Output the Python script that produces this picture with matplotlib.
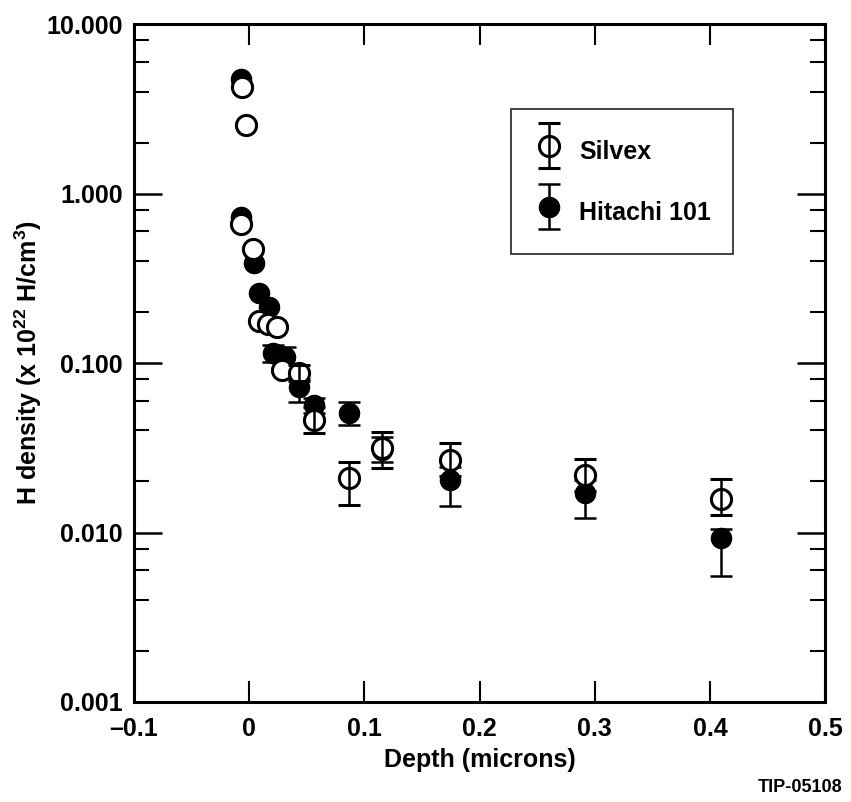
import numpy as np
import matplotlib
matplotlib.use('Agg')
import matplotlib.pyplot as plt
from matplotlib.container import ErrorbarContainer
from matplotlib.legend_handler import HandlerErrorbar

plt.rcParams['font.family'] = ['Liberation Sans', 'DejaVu Sans']
plt.rcParams['font.weight'] = 'bold'
plt.rcParams['axes.labelweight'] = 'bold'
plt.rcParams['mathtext.fontset'] = 'custom'
plt.rcParams['mathtext.rm'] = 'Liberation Sans:bold'

#==================================================================
# data (depth in microns, H density in 1e22 H/cm3)
# lo / hi are the ends of the error bars, nan where none is drawn
silvex_x = [-0.0060, -0.0026, -0.0069, 0.0035, 0.0087, 0.0165, 0.0243, 0.0286,
            0.0434, 0.0564, 0.0868, 0.1155, 0.1745, 0.2917, 0.4097]
silvex_y = [4.25, 2.54, 0.66, 0.471, 0.177, 0.170, 0.163, 0.091,
            0.0873, 0.0461, 0.0210, 0.0315, 0.0268, 0.0218, 0.0158]
silvex_lo = [np.nan, np.nan, np.nan, np.nan, np.nan, np.nan, np.nan, np.nan,
             0.078, 0.0387, 0.0145, 0.0240, 0.0215, 0.0175, 0.0127]
silvex_hi = [np.nan, np.nan, np.nan, np.nan, np.nan, np.nan, np.nan, np.nan,
             0.0973, 0.055, 0.0261, 0.0392, 0.0337, 0.0272, 0.0207]

hitachi_x = [-0.0069, -0.0069, 0.0043, 0.0087, 0.0174, 0.0208, 0.0313,
             0.0434, 0.0564, 0.0868, 0.1155, 0.1745, 0.2917, 0.4097]
hitachi_y = [4.74, 0.726, 0.389, 0.259, 0.214, 0.1146, 0.1084,
             0.0722, 0.0565, 0.0507, 0.0307, 0.0204, 0.0171, 0.00929]
hitachi_lo = [np.nan, np.nan, np.nan, np.nan, np.nan, 0.1014, 0.097,
              0.0589, 0.051, 0.0431, 0.0261, 0.0143, 0.0122, 0.00553]
hitachi_hi = [np.nan, np.nan, np.nan, np.nan, np.nan, 0.1276, 0.124,
              0.081, 0.0622, 0.0589, 0.0366, 0.0245, 0.0205, 0.0105]

xticks = [-0.1, 0, 0.1, 0.2, 0.3, 0.4, 0.5]
xticklabels = ['\u20130.1', '0', '0.1', '0.2', '0.3', '0.4', '0.5']
yticks = [0.001, 0.01, 0.1, 1, 10]
yticklabels = ['0.001', '0.010', '0.100', '1.000', '10.000']
#==================================================================

ms = 14.5
cap = 8
lw = 1.8

fig = plt.figure(figsize=(8.51, 8.02), dpi=100)
ax = fig.add_axes([0.1575, 0.1247, 0.812, 0.8453])


def split(x, y, lo, hi):
    x, y, lo, hi = map(np.asarray, (x, y, lo, hi))
    m = ~np.isnan(lo)
    return x, y, lo, hi, m


# Hitachi 101 (filled)
x, y, lo, hi, m = split(hitachi_x, hitachi_y, hitachi_lo, hitachi_hi)
ax.errorbar(x[m], y[m], yerr=[y[m] - lo[m], hi[m] - y[m]], fmt='o', color='k',
            ms=ms, elinewidth=lw, capsize=cap, capthick=lw, zorder=2)
ax.plot(x[~m], y[~m], 'o', color='k', ms=ms, zorder=2.1)

# Silvex (open, white inside)
x, y, lo, hi, m = split(silvex_x, silvex_y, silvex_lo, silvex_hi)
ax.plot(x[~m], y[~m], 'o', mfc='white', mec='k', mew=2.2, ms=ms, zorder=3)
ax.errorbar(x[m], y[m], yerr=[y[m] - lo[m], hi[m] - y[m]], fmt='o', mfc='white',
            mec='k', mew=2.2, ecolor='k', ms=ms, elinewidth=lw, capsize=cap,
            capthick=lw, barsabove=True, zorder=4)

# legend proxies (nothing drawn in the axes)
h_s = ax.errorbar([np.nan], [np.nan], yerr=[[1], [1]], fmt='o', mfc='none',
                  mec='k', mew=2.2, ecolor='k', ms=ms, elinewidth=lw,
                  capsize=cap, capthick=lw)
h_h = ax.errorbar([np.nan], [np.nan], yerr=[[1], [1]], fmt='o', color='k',
                  ms=ms, elinewidth=lw, capsize=cap, capthick=lw)

ax.set_yscale('log')
ax.set_xlim(-0.1, 0.5)
ax.set_ylim(0.001, 10)

ax.set_xticks(xticks)
ax.set_xticklabels(xticklabels)
ax.set_yticks(yticks)
ax.set_yticklabels(yticklabels)
ax.yaxis.set_minor_locator(matplotlib.ticker.LogLocator(base=10, subs=[2, 4, 6, 8]))
ax.yaxis.set_minor_formatter(matplotlib.ticker.NullFormatter())

ax.tick_params(axis='both', which='both', direction='in', top=True, right=True,
               colors='k', labelsize=18)
ax.tick_params(axis='y', which='major', length=20, width=1.8, pad=8)
ax.tick_params(axis='y', which='minor', length=11, width=1.5)
ax.tick_params(axis='x', which='major', length=15, width=1.5, pad=11)
for s in ax.spines.values():
    s.set_linewidth(2.2)

ax.set_xlabel('Depth (microns)', fontsize=18, labelpad=5)
ax.set_ylabel(r'H density (x 10$^{22}$ H/cm$^{3}$)', fontsize=18, labelpad=2)

leg = ax.legend([h_s, h_h], ['Silvex', 'Hitachi 101'], loc='upper left',
                bbox_to_anchor=(0.546, 0.874), fontsize=18, frameon=True,
                fancybox=False, edgecolor='k', handleheight=2.0,
                labelspacing=0.9, handlelength=1.2, handletextpad=0.6,
                borderpad=0.9, borderaxespad=0,
                handler_map={ErrorbarContainer: HandlerErrorbar(xerr_size=0.9)})
leg.get_frame().set_linewidth(1.3)

fig.text(0.990, 0.0175, 'TIP-05108', ha='right', va='center', fontsize=13,
         fontweight='bold')

fig.savefig('out.png', dpi=100)
